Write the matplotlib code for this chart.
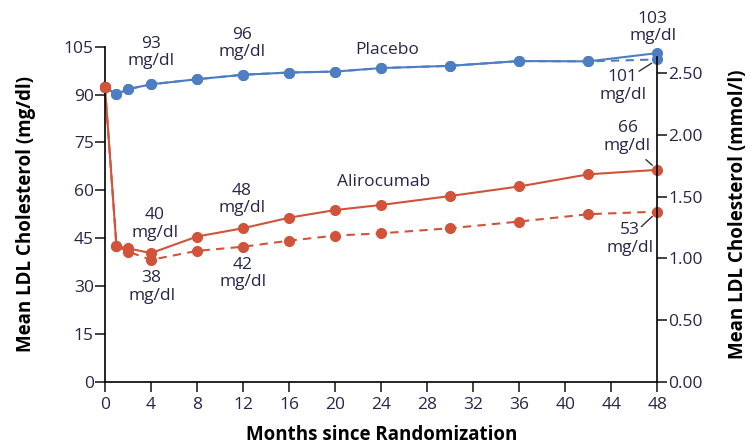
import matplotlib

matplotlib.use("Agg")
import matplotlib.pyplot as plt

plt.rcParams["font.family"] = ["Open Sans", "DejaVu Sans"]

MGDL_PER_MMOL = 38.67
BLUE = "#4d7ec2"
RED = "#d0533a"
INK = "#26264a"

months = [0, 1, 2, 4, 8, 12, 16, 20, 24, 30, 36, 42, 48]
placebo = [92.3, 90.1, 91.7, 93.2, 94.8, 96.2, 96.9, 97.2, 98.3, 99.0, 100.5, 100.4, 103.0]
placebo_dash = [92.3, 90.1, 91.7, 93.2, 94.8, 96.2, 96.9, 97.2, 98.3, 99.0, 100.5, 100.4, 101.0]
aliro = [92.3, 42.5, 41.8, 40.3, 45.5, 48.1, 51.4, 53.8, 55.4, 58.2, 61.2, 65.0, 66.4]
aliro_dash = [92.3, 42.5, 40.8, 38.2, 41.0, 42.3, 44.2, 45.8, 46.5, 48.1, 50.2, 52.5, 53.3]

x_ticks = list(range(0, 49, 4))
y_ticks = list(range(0, 106, 15))
mmol_ticks = [0.0, 0.5, 1.0, 1.5, 2.0, 2.5]

fig = plt.figure(figsize=(7.53, 4.48), dpi=100)
ax = fig.add_axes([0.1394, 0.148, 0.7337, 0.7478])

kw = dict(lw=1.5, marker="o", ms=7, clip_on=False)
ax.plot(months, placebo_dash, color=BLUE, ls=(0, (4, 3)), **kw)
ax.plot(months, placebo, color=BLUE, **kw)
ax.plot(months, aliro_dash, color=RED, ls=(0, (4, 3)), **kw)
ax.plot(months, aliro, color=RED, **kw)
ax.plot(months[:1], aliro[:1], color=RED, marker="o", ms=7, clip_on=False, zorder=5)

ax.set_xlim(0, 48)
ax.set_ylim(0, 105)
ax.set_xticks(x_ticks)
ax.set_yticks(y_ticks)
for s in ("top", "right"):
    ax.spines[s].set_visible(False)
for s in ("left", "bottom"):
    ax.spines[s].set_linewidth(1.2)
ax.tick_params(length=7, width=1.2, pad=1, labelsize=12.5, colors="#222", labelcolor=INK)
ax.tick_params(axis="x", pad=4)
ax.set_ylabel("Mean LDL Cholesterol (mg/dl)", fontsize=13.5, fontweight="bold", labelpad=20)
ax.set_xlabel("Months since Randomization", fontsize=13.5, fontweight="bold", labelpad=9)

ax2 = ax.twinx()
ax2.set_ylim(0, 105 / MGDL_PER_MMOL)
ax2.set_yticks(mmol_ticks)
ax2.set_yticklabels([f"{v:.2f}" for v in mmol_ticks])
for s in ("top", "left", "bottom"):
    ax2.spines[s].set_visible(False)
ax2.spines["right"].set_linewidth(1.2)
ax2.spines["right"].set_bounds(0, 2.63)
ax2.tick_params(length=7, width=1.2, pad=1, labelsize=12.5, colors="#222", labelcolor=INK)
ax2.set_ylabel("Mean LDL Cholesterol (mmol/l)", fontsize=13.5, fontweight="bold", labelpad=18)

tkw = dict(ha="center", va="center", fontsize=12.5, color=INK, linespacing=1.1,
           annotation_clip=False)
ax.annotate("93\nmg/dl", xy=(4.0, 103.3), **tkw)
ax.annotate("96\nmg/dl", xy=(11.9, 105.9), **tkw)
ax.annotate("Placebo", xy=(24.5, 104.0), **tkw)
ax.annotate("103\nmg/dl", xy=(47.6, 110.9), **tkw)
ax.annotate("Alirocumab", xy=(24.2, 62.7), **tkw)
ax.annotate("40\nmg/dl", xy=(4.35, 49.4), **tkw)
ax.annotate("48\nmg/dl", xy=(11.9, 57.0), **tkw)
ax.annotate("38\nmg/dl", xy=(4.05, 29.7), **tkw)
ax.annotate("42\nmg/dl", xy=(12.0, 34.0), **tkw)
ax.annotate("101\nmg/dl", xy=(45.0, 92.7), **tkw)
ax.annotate("66\nmg/dl", xy=(45.4, 76.7), **tkw)
ax.annotate("53\nmg/dl", xy=(45.6, 44.7), **tkw)

# leader lines from the end labels to the month-48 points
lkw = dict(arrowstyle="-", color="#333", lw=1.0, shrinkA=0, shrinkB=5)
ax.annotate("", xy=(48, placebo_dash[-1]), xytext=(46.4, 97.3),
            arrowprops=lkw, annotation_clip=False)
ax.annotate("", xy=(48, aliro[-1]), xytext=(47.0, 69.6),
            arrowprops=lkw, annotation_clip=False)
ax.annotate("", xy=(48, aliro_dash[-1]), xytext=(46.6, 48.6),
            arrowprops=lkw, annotation_clip=False)

fig.savefig("out.png", dpi=100)
